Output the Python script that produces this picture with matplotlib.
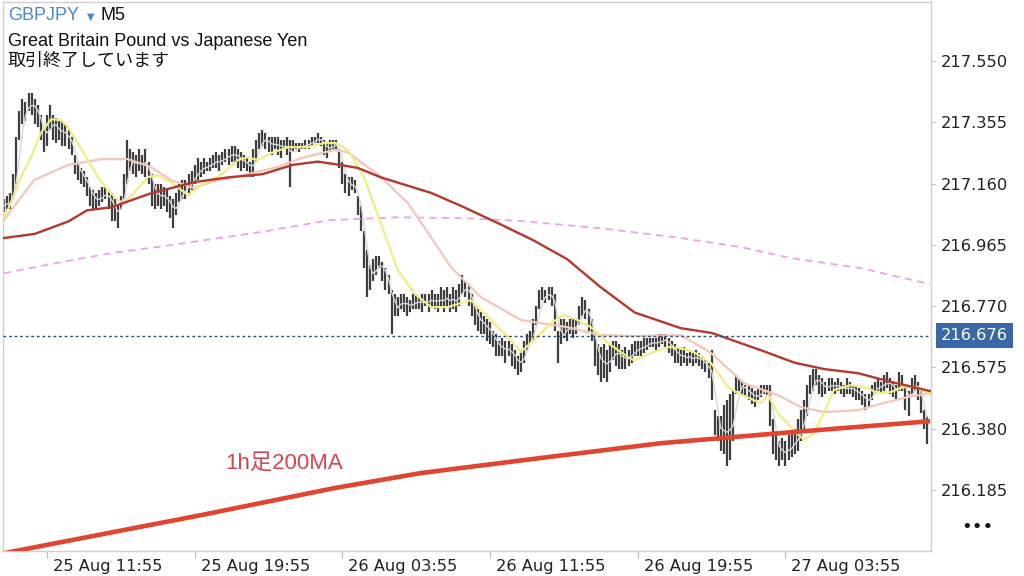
import matplotlib
matplotlib.use("Agg")
import matplotlib.pyplot as plt
import matplotlib.transforms as mtransforms
import numpy as np
import pandas as pd

# ---------------- data ----------------
start_time = "2020-08-25 09:35"
bar_minutes = 10

highs = [
217.11, 217.12, 217.13, 217.19, 217.31, 217.39, 217.43, 217.42, 217.45, 217.45,
217.43, 217.41, 217.38, 217.33, 217.38, 217.41, 217.38, 217.37, 217.36, 217.36,
217.35, 217.33, 217.31, 217.25, 217.23, 217.21, 217.20, 217.18, 217.15, 217.14,
217.13, 217.14, 217.15, 217.15, 217.14, 217.13, 217.11, 217.09, 217.12, 217.19,
217.30, 217.27, 217.26, 217.25, 217.27, 217.25, 217.27, 217.23, 217.19, 217.16,
217.16, 217.16, 217.15, 217.14, 217.12, 217.11, 217.13, 217.16, 217.17, 217.17,
217.19, 217.20, 217.22, 217.24, 217.23, 217.24, 217.23, 217.24, 217.25, 217.26,
217.25, 217.26, 217.27, 217.27, 217.28, 217.28, 217.27, 217.26, 217.25, 217.24,
217.23, 217.27, 217.30, 217.32, 217.33, 217.32, 217.31, 217.31, 217.31, 217.31,
217.30, 217.30, 217.31, 217.30, 217.30, 217.29, 217.29, 217.29, 217.30, 217.30,
217.31, 217.31, 217.32, 217.31, 217.30, 217.29, 217.30, 217.30, 217.30, 217.27,
217.23, 217.19, 217.18, 217.18, 217.17, 217.12, 217.09, 217.01, 216.95, 216.90,
216.92, 216.93, 216.93, 216.91, 216.89, 216.87, 216.82, 216.81, 216.80, 216.81,
216.81, 216.80, 216.79, 216.81, 216.81, 216.80, 216.81, 216.81, 216.81, 216.82,
216.81, 216.81, 216.83, 216.82, 216.83, 216.81, 216.83, 216.82, 216.84, 216.87,
216.85, 216.84, 216.81, 216.77, 216.76, 216.75, 216.74, 216.73, 216.72, 216.69,
216.68, 216.66, 216.67, 216.66, 216.66, 216.65, 216.63, 216.61, 216.63, 216.66,
216.68, 216.69, 216.73, 216.77, 216.82, 216.83, 216.82, 216.83, 216.83, 216.81,
216.69, 216.73, 216.73, 216.72, 216.73, 216.73, 216.73, 216.77, 216.80, 216.79,
216.76, 216.73, 216.68, 216.65, 216.64, 216.65, 216.63, 216.65, 216.66, 216.66,
216.65, 216.63, 216.64, 216.63, 216.65, 216.66, 216.66, 216.66, 216.67, 216.67,
216.67, 216.67, 216.67, 216.68, 216.68, 216.68, 216.67, 216.66, 216.65, 216.64,
216.63, 216.64, 216.62, 216.63, 216.62, 216.63, 216.62, 216.61, 216.60, 216.59,
216.63, 216.44, 216.42, 216.42, 216.455, 216.47, 216.49, 216.50, 216.55, 216.54,
216.53, 216.52, 216.52, 216.51, 216.50, 216.51, 216.52, 216.52, 216.52, 216.52,
216.41, 216.36, 216.34, 216.35, 216.34, 216.36, 216.37, 216.38, 216.41, 216.44,
216.47, 216.52, 216.55, 216.57, 216.57, 216.55, 216.54, 216.53, 216.54, 216.54,
216.53, 216.54, 216.53, 216.52, 216.54, 216.53, 216.52, 216.52, 216.51, 216.50,
216.49, 216.49, 216.52, 216.53, 216.54, 216.53, 216.55, 216.56, 216.54, 216.53,
216.52, 216.56, 216.55, 216.52, 216.50, 216.54, 216.55, 216.53, 216.50, 216.44,
216.42]

lows = [
217.07, 217.08, 217.08, 217.11, 217.16, 217.30, 217.35, 217.36, 217.39, 217.38,
217.35, 217.34, 217.30, 217.26, 217.28, 217.33, 217.30, 217.29, 217.30, 217.28,
217.28, 217.27, 217.25, 217.19, 217.17, 217.16, 217.15, 217.12, 217.09, 217.08,
217.08, 217.09, 217.10, 217.11, 217.08, 217.04, 217.04, 217.02, 217.08, 217.11,
217.16, 217.20, 217.19, 217.18, 217.20, 217.19, 217.18, 217.16, 217.09, 217.08,
217.09, 217.08, 217.09, 217.07, 217.05, 217.02, 217.06, 217.10, 217.11, 217.11,
217.13, 217.14, 217.16, 217.17, 217.18, 217.19, 217.20, 217.20, 217.21, 217.21,
217.20, 217.22, 217.23, 217.22, 217.23, 217.23, 217.21, 217.20, 217.21, 217.20,
217.18, 217.18, 217.23, 217.27, 217.28, 217.27, 217.26, 217.25, 217.27, 217.25,
217.24, 217.27, 217.25, 217.15, 217.26, 217.27, 217.26, 217.27, 217.27, 217.27,
217.28, 217.29, 217.29, 217.28, 217.25, 217.24, 217.26, 217.27, 217.27, 217.21,
217.16, 217.13, 217.12, 217.14, 217.13, 217.06, 217.01, 216.89, 216.80, 216.82,
216.85, 216.87, 216.89, 216.85, 216.82, 216.81, 216.68, 216.74, 216.74, 216.76,
216.75, 216.74, 216.75, 216.76, 216.76, 216.76, 216.75, 216.77, 216.75, 216.77,
216.76, 216.75, 216.77, 216.75, 216.77, 216.75, 216.76, 216.75, 216.77, 216.81,
216.80, 216.77, 216.74, 216.71, 216.69, 216.68, 216.68, 216.66, 216.65, 216.64,
216.61, 216.61, 216.61, 216.59, 216.61, 216.58, 216.57, 216.55, 216.56, 216.59,
216.63, 216.65, 216.66, 216.71, 216.76, 216.79, 216.78, 216.79, 216.77, 216.69,
216.59, 216.65, 216.67, 216.66, 216.68, 216.67, 216.68, 216.71, 216.74, 216.73,
216.69, 216.66, 216.58, 216.55, 216.53, 216.54, 216.53, 216.56, 216.60, 216.58,
216.57, 216.57, 216.57, 216.58, 216.59, 216.61, 216.61, 216.61, 216.62, 216.63,
216.64, 216.64, 216.63, 216.64, 216.65, 216.64, 216.62, 216.61, 216.59, 216.59,
216.58, 216.59, 216.58, 216.59, 216.58, 216.59, 216.58, 216.57, 216.56, 216.54,
216.47, 216.36, 216.34, 216.31, 216.30, 216.26, 216.28, 216.34, 216.49, 216.50,
216.49, 216.48, 216.47, 216.46, 216.45, 216.47, 216.48, 216.49, 216.48, 216.39,
216.30, 216.28, 216.26, 216.28, 216.26, 216.28, 216.29, 216.30, 216.31, 216.34,
216.38, 216.42, 216.49, 216.50, 216.52, 216.49, 216.48, 216.49, 216.50, 216.50,
216.49, 216.50, 216.49, 216.48, 216.49, 216.49, 216.48, 216.47, 216.47, 216.455,
216.44, 216.45, 216.47, 216.49, 216.50, 216.49, 216.50, 216.51, 216.49, 216.48,
216.47, 216.50, 216.50, 216.44, 216.42, 216.49, 216.50, 216.47, 216.43, 216.38,
216.33]

# moving averages (bar index, price)
ma_fast_idx = [0, 2.3, 5.5, 8.8, 12, 15.3, 18.5, 20.8, 24, 27.3, 30.5, 33.8, 37, 39, 42.2, 46.8,
               50, 54.3, 59.8, 64, 70.5, 76, 79.3, 82.5, 86.8, 92.3, 98.8, 104, 107.9, 111.8,
               117, 122.5, 128, 133.2, 138.8, 144.3, 149.5, 151.8, 157.3, 161.5, 164.8, 168,
               172.2, 177.8, 182, 186.5, 190.8, 196.3, 202.8, 204.7, 210.3, 215.8, 220, 224.2,
               229.8, 235.3, 238.6, 243.7, 246, 248.3, 251.5, 256.7, 260, 263.2, 266.5, 269.7,
               275.3, 280.8, 284, 288.3, 292.5, 297.1, 301.3]
ma_fast_val = [217.053, 217.098, 217.181, 217.244, 217.321, 217.365, 217.362, 217.340, 217.289,
               217.235, 217.181, 217.139, 217.108, 217.098, 217.130, 217.181, 217.187, 217.165,
               217.123, 217.155, 217.187, 217.235, 217.244, 217.235, 217.257, 217.276, 217.276,
               217.289, 217.289, 217.267, 217.181, 217.034, 216.885, 216.812, 216.767, 216.767,
               216.783, 216.789, 216.735, 216.694, 216.662, 216.624, 216.662, 216.716, 216.742,
               216.726, 216.703, 216.653, 216.608, 216.598, 216.621, 216.640, 216.637, 216.624,
               216.589, 216.513, 216.493, 216.471, 216.462, 216.487, 216.430, 216.376, 216.344,
               216.366, 216.430, 216.503, 216.519, 216.509, 216.493, 216.497, 216.513, 216.513,
               216.487]

ma_mid_idx = [0, 9.75, 20.8, 31.5, 40.3, 47.8, 54.3, 61.7, 67.3, 78, 89, 96.5, 107.2, 111.8,
              122.5, 131.3, 138.8, 145.3, 155, 168, 183.3, 194, 204.7, 220, 229.8, 240.5,
              251.5, 259, 266.5, 277.5, 286, 293.8, 301]
ma_mid_val = [217.044, 217.171, 217.219, 217.238, 217.238, 217.213, 217.171, 217.146, 217.165,
              217.187, 217.213, 217.241, 217.267, 217.260, 217.181, 217.098, 216.990, 216.894,
              216.799, 216.726, 216.703, 216.678, 216.675, 216.678, 216.621, 216.525, 216.487,
              216.449, 216.433, 216.439, 216.462, 216.481, 216.493]

ma_slow_idx = [0, 10, 21, 27, 35, 48, 62, 73, 84, 94, 102, 109, 115, 122.5, 139, 149.5, 161.5,
               172, 183, 194, 205, 220, 230, 246, 257, 266.5, 277.5, 288, 301]
ma_slow_val = [216.987, 217.000, 217.040, 217.075, 217.085, 217.130, 217.165, 217.180, 217.190,
               217.220, 217.230, 217.220, 217.210, 217.180, 217.130, 217.085, 217.030, 216.980,
               216.920, 216.830, 216.750, 216.700, 216.685, 216.630, 216.590, 216.570, 216.557,
               216.530, 216.500]

ma_long_idx = [0, 18.5, 35, 54, 83.5, 106, 128, 149.5, 168, 194, 220, 239.5, 255.8, 278.5, 301]
ma_long_val = [216.875, 216.910, 216.939, 216.964, 217.006, 217.044, 217.053, 217.050, 217.041,
               217.018, 216.987, 216.958, 216.923, 216.891, 216.840]

ma_h1_idx = [0, 64, 107.3, 135.5, 174.5, 213.5, 255.8, 301]
ma_h1_val = [215.984, 216.105, 216.191, 216.239, 216.287, 216.334, 216.369, 216.404]

price_ticks = [217.550, 217.355, 217.160, 216.965, 216.770, 216.575, 216.380, 216.185]
time_ticks = ["2020-08-25 11:55", "2020-08-25 19:55", "2020-08-26 03:55",
              "2020-08-26 11:55", "2020-08-26 19:55", "2020-08-27 03:55"]
last_price = 216.676

symbol = "GBPJPY"
timeframe = "M5"
subtitle = "Great Britain Pound vs Japanese Yen"
status = "取引終了しています"
ma_label = "1h足200MA"

# ---------------- drawing ----------------
plt.rcParams['font.family'] = ['DejaVu Sans', 'Noto Sans CJK JP']

fig = plt.figure(figsize=(10.24, 5.76), dpi=100)
fig.patch.set_facecolor('white')
W, H = 1024, 576
ax = fig.add_axes([3 / W, 1 - 551 / H, 928 / W, 549 / H])

n = min(len(highs), len(lows))
idx = np.arange(n)
hi = np.array(highs[:n])
lo = np.array(lows[:n])

ax.vlines(idx, lo, hi, color='#3e3e3e', linewidth=1.6, zorder=2)

mid = pd.Series((hi + lo) / 2.0)
ma_tiny = mid.rolling(3, min_periods=1).mean()
ax.plot(idx, ma_tiny, color='#d6d6d6', lw=1.0, zorder=3)

ax.plot(ma_long_idx, ma_long_val, color='#e6a6e6', lw=1.3, ls=(0, (4, 3)), zorder=3)
ax.plot(ma_mid_idx, ma_mid_val, color='#f1c6bd', lw=1.6, zorder=4)
ax.plot(ma_fast_idx, ma_fast_val, color='#f2ec86', lw=1.6, zorder=5)
ax.plot(ma_slow_idx, ma_slow_val, color='#b3392c', lw=1.7, zorder=6)
ax.plot(ma_h1_idx, ma_h1_val, color='#e0452f', lw=3.3, zorder=7, solid_capstyle='butt')

ax.axhline(last_price, color='#2f4f73', lw=1.0, ls=(0, (2, 2)), zorder=8)

ax.set_xlim(-0.3, 301.3)
ax.set_ylim(215.991, 217.738)

for s in ax.spines.values():
    s.set_color('#cfcfcf')
    s.set_linewidth(1.0)

# y axis on the right
ax.yaxis.tick_right()
ax.set_yticks(price_ticks)
ax.set_yticklabels([f"{p:.3f}" for p in price_ticks])
ax.tick_params(axis='y', which='both', length=3, color='#bdbdbd', pad=4,
               labelsize=11.7, labelcolor='#222222')

# x axis
t0 = pd.Timestamp(start_time)
tick_pos = [(pd.Timestamp(t) - t0) / pd.Timedelta(minutes=bar_minutes) for t in time_ticks]
ax.set_xticks(tick_pos)
ax.set_xticklabels([pd.Timestamp(t).strftime('%d %b %H:%M') for t in time_ticks])
ax.tick_params(axis='x', which='both', length=5, color='#bdbdbd', pad=1,
               labelsize=11.7, labelcolor='#222222')
offset = mtransforms.ScaledTranslation(6 / 100, 0, fig.dpi_scale_trans)
for lbl in ax.get_xticklabels():
    lbl.set_horizontalalignment('left')
    lbl.set_transform(lbl.get_transform() + offset)

# last price label
trans = mtransforms.blended_transform_factory(ax.transAxes, ax.transData)
ax.text((941 - 3) / 928, last_price, f"{last_price:.3f}", transform=trans,
        ha='left', va='center', fontsize=11.7, color='white', zorder=10, clip_on=False,
        bbox=dict(boxstyle='square,pad=0.32', facecolor='#3a68a6', edgecolor='none'))

# header
fig.text(8 / W, 1 - 16 / H, symbol, color='#4a86d6', fontsize=13,
         family=['Liberation Sans', 'DejaVu Sans'], ha='left', va='center')
fig.text(87 / W, 1 - 17 / H, "▼", color='#4a86d6', fontsize=7, ha='left', va='center')
fig.text(100 / W, 1 - 16 / H, timeframe, color='#111111', fontsize=13,
         family=['Liberation Sans', 'DejaVu Sans'], ha='left', va='center')
fig.text(8 / W, 1 - 41 / H, subtitle, color='#111111', fontsize=13,
         family=['Liberation Sans', 'DejaVu Sans'], ha='left', va='center')
fig.text(8 / W, 1 - 61 / H, status, color='#111111', fontsize=13,
         family=['Noto Sans CJK JP', 'DejaVu Sans'], ha='left', va='center')

# annotation
ax.text((225 - 3) / 928, (551 - 463) / 549, ma_label, transform=ax.transAxes,
        color='#d4464f', fontsize=16, family=['Liberation Sans', 'Noto Sans CJK JP'],
        ha='left', va='center', zorder=10)

fig.text(977 / W, 1 - 527 / H, "•••", color='#111111', fontsize=13, ha='center', va='center')

fig.savefig('out.png', dpi=100, facecolor='white')
